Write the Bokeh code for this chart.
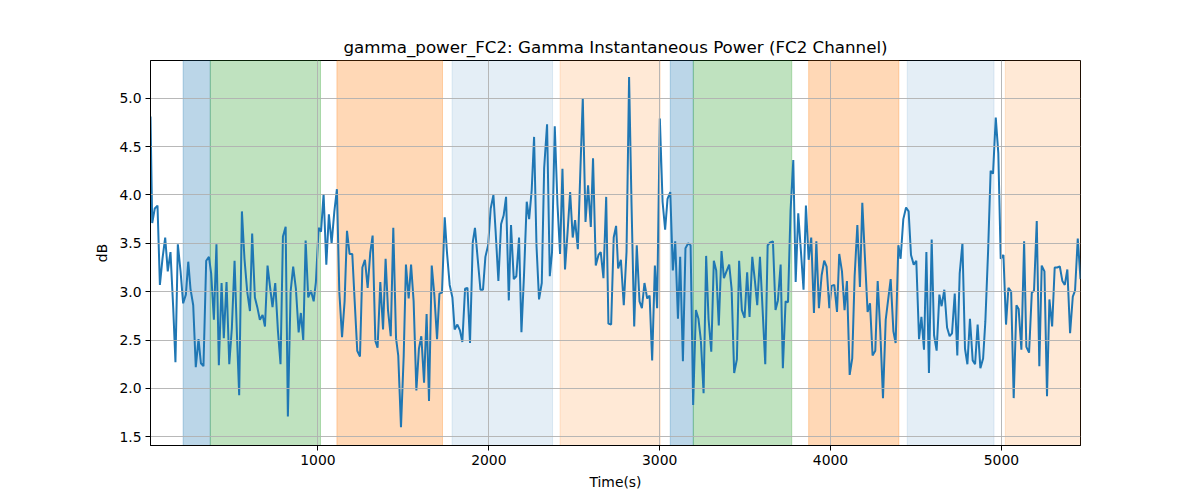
from bokeh.plotting import figure
from bokeh.models import BoxAnnotation, Range1d, FixedTicker, PrintfTickFormatter
from bokeh.embed import file_html
from bokeh.resources import INLINE

# ---- data ----
times = [
    20, 30, 45, 61, 75, 90, 106, 121, 137, 153, 166, 180, 196, 211, 227, 241, 254, 270, 285, 301,
    315, 330, 346, 362, 375, 391, 406, 420, 436, 449, 465, 481, 496, 512, 526, 539, 555, 570, 586, 602,
    615, 631, 645, 660, 676, 690, 705, 721, 734, 750, 766, 781, 795, 811, 824, 840, 855, 871, 887, 900,
    914, 928, 943, 959, 975, 988, 1004, 1018, 1033, 1049, 1064, 1080, 1096, 1111, 1125, 1141, 1156, 1170, 1185, 1201,
    1215, 1230, 1246, 1260, 1275, 1291, 1306, 1320, 1336, 1349, 1365, 1381, 1396, 1410, 1426, 1441, 1457, 1470, 1486, 1502,
    1515, 1531, 1545, 1560, 1576, 1591, 1605, 1621, 1636, 1650, 1666, 1681, 1697, 1711, 1726, 1742, 1755, 1771, 1787, 1800,
    1816, 1831, 1845, 1861, 1875, 1890, 1906, 1919, 1935, 1951, 1966, 1980, 1996, 2011, 2027, 2040, 2056, 2072, 2087, 2101,
    2117, 2130, 2146, 2161, 2177, 2191, 2206, 2222, 2236, 2251, 2265, 2279, 2294, 2310, 2324, 2341, 2357, 2370, 2386, 2402,
    2417, 2431, 2446, 2460, 2476, 2491, 2505, 2521, 2536, 2550, 2566, 2581, 2597, 2610, 2626, 2642, 2655, 2671, 2687, 2700,
    2716, 2731, 2745, 2757, 2773, 2790, 2806, 2821, 2835, 2851, 2866, 2882, 2896, 2911, 2927, 2941, 2956, 2972, 2985, 3001,
    3017, 3032, 3046, 3062, 3077, 3091, 3107, 3120, 3136, 3151, 3167, 3181, 3196, 3212, 3227, 3241, 3257, 3272, 3286, 3302,
    3317, 3331, 3346, 3362, 3376, 3391, 3407, 3421, 3436, 3452, 3465, 3481, 3497, 3512, 3526, 3542, 3557, 3571, 3587, 3602,
    3618, 3632, 3647, 3663, 3678, 3692, 3708, 3721, 3737, 3751, 3766, 3782, 3796, 3811, 3827, 3842, 3856, 3872, 3887, 3903,
    3917, 3932, 3948, 3963, 3977, 3993, 4006, 4022, 4038, 4051, 4067, 4082, 4096, 4112, 4127, 4141, 4157, 4172, 4186, 4202,
    4217, 4231, 4246, 4262, 4276, 4291, 4307, 4323, 4336, 4352, 4368, 4381, 4397, 4410, 4426, 4442, 4457, 4471, 4487, 4502,
    4518, 4532, 4547, 4561, 4576, 4592, 4606, 4621, 4637, 4650, 4666, 4682, 4697, 4711, 4727, 4742, 4756, 4772, 4787, 4801,
    4816, 4832, 4846, 4861, 4877, 4893, 4906, 4922, 4937, 4951, 4967, 4982, 4996, 5012, 5027, 5041, 5057, 5072, 5088, 5101,
    5117, 5133, 5146, 5162, 5178, 5191, 5207, 5222, 5236, 5252, 5267, 5281, 5297, 5312, 5326, 5342, 5357, 5371, 5386, 5402,
    5418, 5431, 5447, 5463,
]
gamma_db = [
    4.81, 3.71, 3.86, 3.89, 3.07, 3.34, 3.56, 3.21, 3.41, 2.83, 2.27, 3.49, 3.21, 2.88, 2.97, 3.31, 3.03, 2.86, 2.22, 2.51,
    2.26, 2.23, 3.32, 3.36, 3.19, 2.71, 3.49, 2.24, 3.09, 2.52, 3.10, 2.25, 2.62, 3.32, 2.55, 1.93, 3.83, 3.34, 3.00, 2.80,
    3.60, 2.94, 2.84, 2.71, 2.76, 2.64, 3.27, 3.03, 2.84, 3.09, 2.59, 2.25, 3.57, 3.67, 1.71, 3.00, 3.26, 3.03, 2.58, 2.78,
    2.50, 3.53, 2.94, 3.01, 2.90, 3.10, 3.66, 3.62, 4.01, 3.28, 3.80, 3.50, 3.83, 4.06, 3.00, 2.53, 2.90, 3.63, 3.39, 3.39,
    2.90, 2.39, 2.33, 3.25, 3.33, 3.04, 3.40, 3.58, 2.49, 2.42, 3.10, 2.61, 3.34, 2.81, 2.54, 3.66, 2.52, 2.34, 1.60, 2.34,
    3.28, 2.93, 3.28, 2.90, 1.98, 2.41, 2.54, 2.06, 2.77, 1.87, 3.27, 2.97, 2.51, 2.98, 2.99, 3.77, 3.41, 3.07, 2.94, 2.61,
    2.66, 2.60, 2.48, 3.03, 3.04, 2.47, 3.51, 3.66, 3.34, 3.02, 3.02, 3.36, 3.48, 3.86, 4.00, 3.62, 3.11, 3.70, 3.79, 3.98,
    2.91, 3.69, 3.13, 3.16, 3.56, 2.58, 3.17, 3.93, 3.75, 4.05, 4.60, 3.48, 2.92, 3.09, 4.28, 4.73, 3.16, 3.41, 4.71, 3.90,
    3.39, 4.27, 3.23, 3.59, 4.03, 3.56, 3.74, 3.44, 4.26, 5.00, 3.72, 4.10, 3.67, 4.38, 3.27, 3.38, 3.41, 3.14, 3.98, 2.67,
    2.66, 3.56, 3.68, 3.24, 3.33, 2.86, 3.41, 5.22, 3.93, 2.64, 3.48, 2.90, 2.83, 3.09, 2.93, 2.96, 2.29, 3.27, 2.83, 4.79,
    3.93, 3.64, 3.96, 4.03, 3.22, 3.52, 2.72, 3.36, 2.28, 3.45, 3.50, 3.48, 1.83, 2.81, 2.72, 2.50, 1.95, 3.37, 2.72, 2.38,
    3.32, 3.22, 2.65, 3.42, 3.14, 3.21, 3.28, 3.03, 2.16, 2.30, 3.32, 2.81, 2.73, 3.20, 2.74, 3.36, 3.12, 2.86, 3.36, 2.83,
    2.25, 3.48, 3.51, 3.52, 2.81, 2.91, 3.28, 2.21, 2.90, 2.89, 3.84, 4.36, 3.10, 3.81, 3.41, 3.02, 3.89, 3.33, 3.56, 2.78,
    3.52, 2.83, 3.17, 3.32, 3.26, 2.83, 3.06, 3.07, 2.79, 3.39, 3.21, 2.81, 3.11, 2.14, 2.31, 3.16, 3.69, 3.05, 3.92, 3.33,
    2.79, 2.88, 2.34, 2.39, 3.11, 2.60, 1.90, 2.71, 2.90, 3.13, 2.59, 2.47, 3.48, 3.34, 3.75, 3.87, 3.83, 3.38, 3.28, 3.32,
    2.51, 2.74, 2.40, 3.41, 2.16, 3.54, 2.55, 2.39, 2.97, 2.85, 3.02, 2.63, 2.54, 2.57, 2.98, 2.34, 3.19, 3.50, 2.41, 2.25,
    2.72, 2.29, 2.25, 2.66, 2.21, 2.31, 2.69, 3.41, 4.25, 4.22, 4.80, 4.43, 3.34, 3.38, 2.66, 3.04, 3.00, 1.90, 2.86, 2.82,
    2.40, 3.52, 2.43, 2.37, 2.99, 3.01, 3.73, 2.23, 3.27, 3.21, 1.92, 2.92, 2.64, 3.25, 3.25, 3.26, 3.11, 3.07, 3.23, 2.57,
    2.95, 3.01, 3.55, 3.13,
]

span_starts = [211, 370, 1111, 1785, 2417, 3062, 3197, 3872, 4449, 5023]
span_ends = [370, 1015, 1729, 2373, 3003, 3197, 3773, 4400, 4957, 5463]
span_colors = ["#1f77b4", "#2ca02c", "#ff7f0e", "#1f77b4", "#ff7f0e",
               "#1f77b4", "#2ca02c", "#ff7f0e", "#1f77b4", "#ff7f0e"]
span_alphas = [0.3, 0.3, 0.3, 0.12, 0.17, 0.3, 0.3, 0.3, 0.12, 0.17]

x_ticks = [1000, 2000, 3000, 4000, 5000]
y_ticks = [1.5, 2.0, 2.5, 3.0, 3.5, 4.0, 4.5, 5.0]

title_text = "gamma_power_FC2: Gamma Instantaneous Power (FC2 Channel)"
x_label = "Time(s)"
y_label = "dB"

FONT = "DejaVu Sans"

p = figure(
    frame_width=930, frame_height=385,
    min_border_left=150, min_border_right=120,
    min_border_top=60, min_border_bottom=55,
    x_range=Range1d(times[0], times[-1]),
    y_range=Range1d(1.41, 5.39),
    output_backend="svg", toolbar_location=None,
    title=title_text,
)

p.title.align = "center"
p.title.text_font = FONT
p.title.text_font_size = "16.7px"
p.title.text_font_style = "normal"
p.title.text_color = "black"
p.title.standoff = 8

for s, e, c, a in zip(span_starts, span_ends, span_colors, span_alphas):
    p.add_layout(BoxAnnotation(left=s, right=e, fill_color=c, fill_alpha=a,
                               line_color=c, line_alpha=a, line_width=1,
                               level="underlay"))

p.line(times, gamma_db, line_color="#1f77b4", line_width=2.0)

p.xaxis.ticker = FixedTicker(ticks=x_ticks)
p.yaxis.ticker = FixedTicker(ticks=y_ticks)
p.yaxis.formatter = PrintfTickFormatter(format="%.1f")

for g in (p.xgrid, p.ygrid):
    g.grid_line_color = "#b0b0b0"
    g.grid_line_width = 0.9
    g.level = "glyph"

p.xaxis.axis_label = x_label
p.yaxis.axis_label = y_label
for ax in (p.xaxis, p.yaxis):
    ax.axis_label_text_font = FONT
    ax.axis_label_text_font_size = "13.9px"
    ax.axis_label_text_font_style = "normal"
    ax.axis_label_text_color = "black"
    ax.major_label_text_font = FONT
    ax.major_label_text_font_size = "13.9px"
    ax.major_label_text_color = "black"
    ax.minor_tick_line_color = None
    ax.major_tick_in = 0
    ax.major_tick_out = 5
    ax.major_tick_line_color = "black"
    ax.axis_line_color = "black"
    ax.axis_label_standoff = 6
    ax.major_label_standoff = 4

p.outline_line_color = "black"
p.outline_line_alpha = 1
p.outline_line_width = 1
p.background_fill_color = "white"
p.border_fill_color = "white"

open("out.html", "w").write(file_html(p, INLINE))
